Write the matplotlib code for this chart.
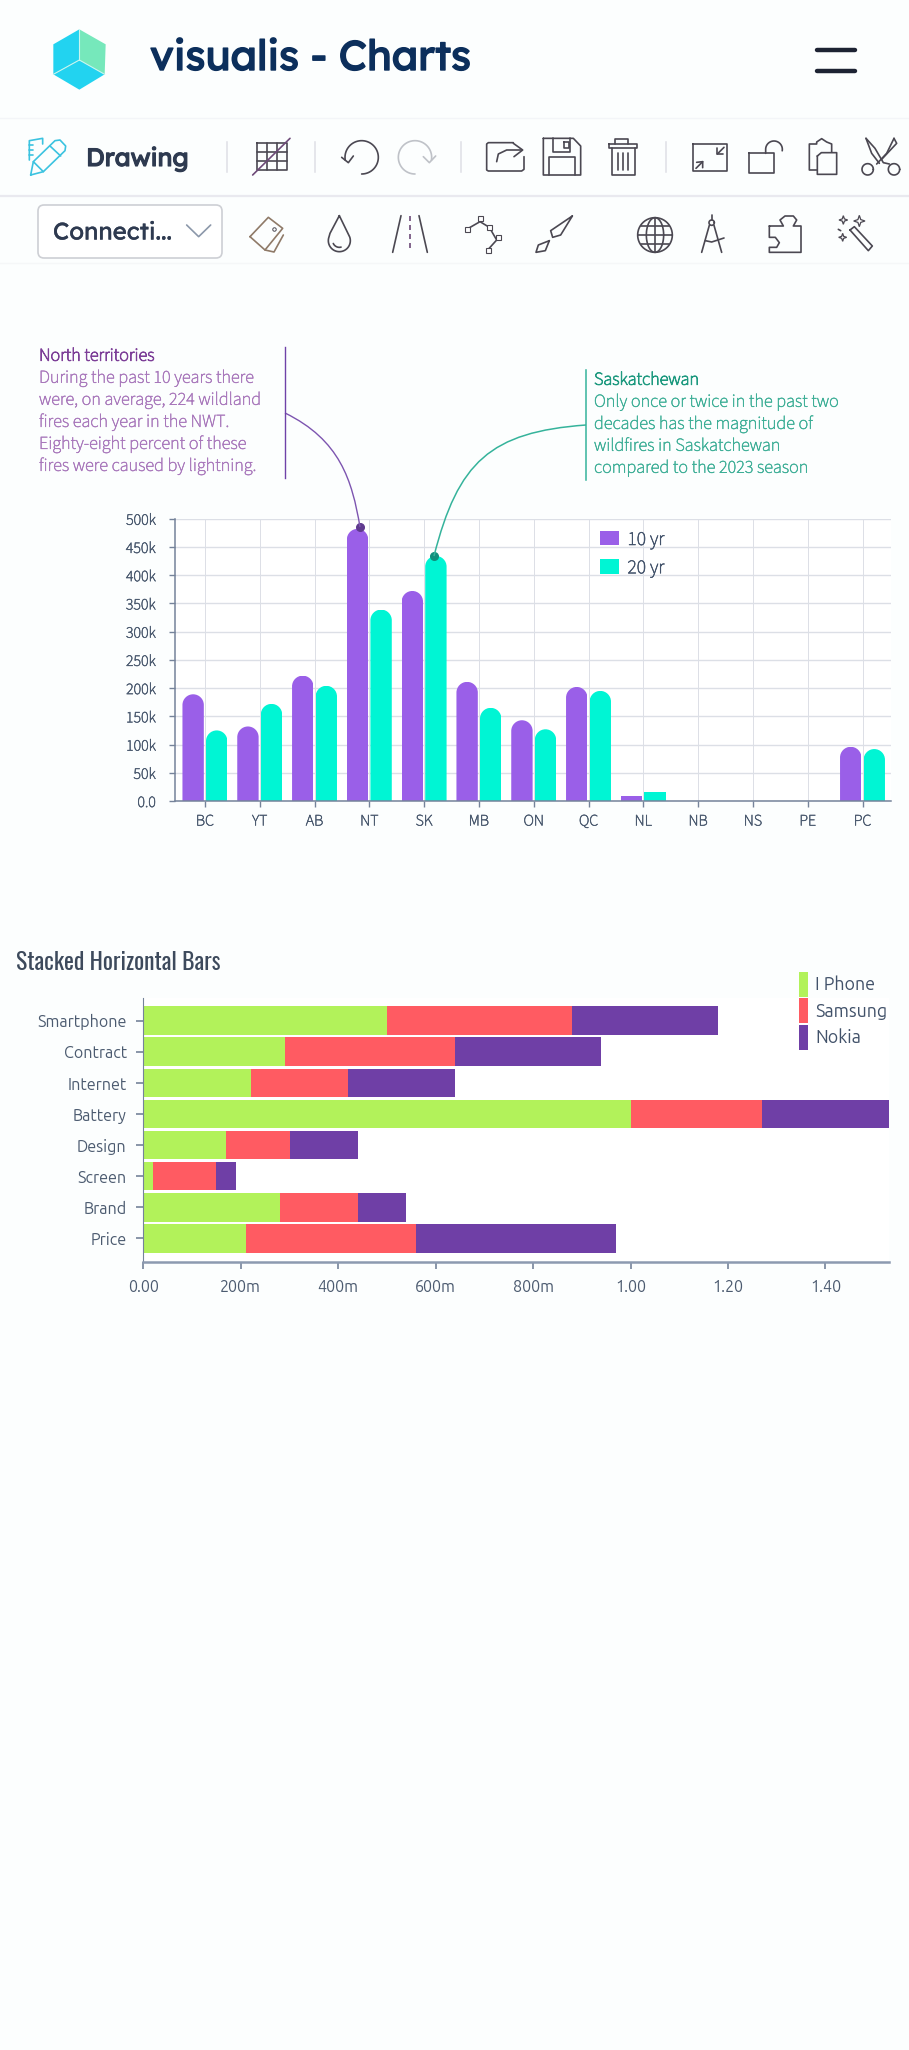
import numpy as np
import matplotlib
matplotlib.use('Agg')
import matplotlib.pyplot as plt
from matplotlib.patches import PathPatch, FancyBboxPatch, Polygon
from matplotlib.patheffects import withStroke
from matplotlib.path import Path

# ---------- data ----------
regions = ['BC', 'YT', 'AB', 'NT', 'SK', 'MB', 'ON', 'QC', 'NL', 'NB', 'NS', 'PE', 'PC']
ten_yr = [189, 132, 222, 482, 372, 211, 143, 202, 8, 0, 0, 0, 96]
twenty_yr = [125, 172, 204, 339, 434, 165, 127, 195, 16, 0, 0, 0, 92]
y_ticks_k = [0, 50, 100, 150, 200, 250, 300, 350, 400, 450, 500]
y_labels = ['0.0', '50k', '100k', '150k', '200k', '250k', '300k', '350k', '400k', '450k', '500k']

features = ['Price', 'Brand', 'Screen', 'Design', 'Battery', 'Internet', 'Contract', 'Smartphone']
iphone = [0.21, 0.28, 0.02, 0.17, 1.00, 0.22, 0.29, 0.50]
samsung = [0.35, 0.16, 0.13, 0.13, 0.27, 0.20, 0.35, 0.38]
nokia = [0.41, 0.10, 0.04, 0.14, 0.27, 0.22, 0.30, 0.30]
x_ticks = [0, 0.2, 0.4, 0.6, 0.8, 1.0, 1.2, 1.4]
x_labels = ['0.00', '200m', '400m', '600m', '800m', '1.00', '1.20', '1.40']

north_lines = ['During the past 10 years there', 'were, on average, 224 wildland',
               'fires each year in the NWT.', 'Eighty-eight percent of these',
               'fires were caused by lightning.']
sask_lines = ['Only once or twice in the past two', 'decades has the magnitude of',
              'wildfires in Saskatchewan', 'compared to the 2023 season']

# ---------- figure ----------
W, H = 909, 2050
BODY = ['Source Sans 3', 'Source Sans Pro', 'Lato', 'DejaVu Sans']
TICKF = ['Ubuntu', 'Lato', 'DejaVu Sans']
UI = ['Lexend', 'Lato', 'DejaVu Sans']
TITLE = ['Oswald', 'Roboto Condensed', 'DejaVu Sans']
TICK = '#4c5b70'
GRID = '#dcdfe6'
AXC = '#75839a'
plt.rcParams['font.family'] = BODY
fig = plt.figure(figsize=(W / 100, H / 100), dpi=100, facecolor='#fcfefe')


def rect_px(l, t, r, b):
    return [l / W, 1 - b / H, (r - l) / W, (b - t) / H]


def heavy(t, lw, c):
    t.set_path_effects([withStroke(linewidth=lw, foreground=c)])


# ---------- grouped bar chart ----------
ax = fig.add_axes(rect_px(175, 518.7, 891, 801), facecolor='white')
x = np.arange(len(regions))
off, bw = 0.215, 0.39
ax.set_xlim(-0.546, 12.52)
ax.set_ylim(0, 500)
PX_X = (891 - 175) / (12.52 + 0.546)
PX_Y = (801 - 518.7) / 500
ax.set_axisbelow(True)
ax.grid(True, color=GRID, lw=1.0)
ax.grid(True, axis='x', color=GRID, lw=0.7)


def round_top(bars):
    for b in bars:
        x0, w, h = b.get_x(), b.get_width(), b.get_height()
        rx = w / 2
        ry = rx * PX_X / PX_Y
        if h < ry * 1.2:
            continue
        k = 0.5523
        verts = [(x0, 0), (x0, h - ry), (x0, h - ry + k * ry), (x0 + rx - k * rx, h), (x0 + rx, h),
                 (x0 + rx + k * rx, h), (x0 + w, h - ry + k * ry), (x0 + w, h - ry), (x0 + w, 0), (x0, 0)]
        codes = [Path.MOVETO, Path.LINETO, Path.CURVE4, Path.CURVE4, Path.CURVE4,
                 Path.CURVE4, Path.CURVE4, Path.CURVE4, Path.LINETO, Path.CLOSEPOLY]
        b.set_clip_path(Path(verts, codes), ax.transData)


b1 = ax.bar(x - off, ten_yr, bw, color='#9a5fe8', label='10 yr', zorder=2)
b2 = ax.bar(x + off, twenty_yr, bw, color='#00f5d4', label='20 yr', zorder=2)
round_top(b1)
round_top(b2)
ax.set_xticks(x, regions)
ax.set_yticks(y_ticks_k, y_labels)
ax.tick_params(axis='both', colors=TICK, labelsize=11.5, length=4, width=1, color=AXC, pad=10)
ax.tick_params(axis='x', pad=5)
for t in ax.get_xticklabels() + ax.get_yticklabels():
    heavy(t, 0.4, TICK)
for s in ['top', 'right']:
    ax.spines[s].set_visible(False)
for s in ['left', 'bottom']:
    ax.spines[s].set_color(AXC)
    ax.spines[s].set_linewidth(1.1)
ax.plot([2.835], [485], 'o', ms=5.5, color='#5f3a8e', clip_on=False, zorder=5)
ax.plot([4.18], [434], 'o', ms=5.5, color='#0f8f7c', clip_on=False, zorder=5)
leg = ax.legend(loc='upper left', bbox_to_anchor=(600 / W, 1 - 530 / H), bbox_transform=fig.transFigure,
                frameon=False, fontsize=14.2, handlelength=0.94, handleheight=0.75, labelspacing=0.42,
                handletextpad=0.45, borderpad=0, borderaxespad=0)
for t in leg.get_texts():
    t.set_color('#42526a')
    heavy(t, 0.4, '#42526a')

# ---------- stacked horizontal bars ----------
ax2 = fig.add_axes(rect_px(143.4, 998, 888.7, 1262), facecolor='white')
y = np.arange(len(features))
ip, sa, no = np.array(iphone), np.array(samsung), np.array(nokia)
ax2.barh(y, ip, 0.92, color='#b2f25a', label='I Phone')
ax2.barh(y, sa, 0.92, left=ip, color='#ff5b62', label='Samsung')
ax2.barh(y, no, 0.92, left=ip + sa, color='#6f3fa6', label='Nokia')
ax2.set_xlim(0, 1.53)
ax2.set_ylim(-0.76, 7.73)
ax2.set_xticks(x_ticks, x_labels, family=TICKF)
ax2.set_yticks(y, features, family=TICKF)
ax2.tick_params(axis='both', colors=TICK, labelsize=11.6, length=5, width=1.2, color=AXC, pad=7)
for s in ['top', 'right']:
    ax2.spines[s].set_visible(False)
ax2.spines['left'].set_color(AXC)
ax2.spines['bottom'].set_color('#8c9ab0')
ax2.spines['bottom'].set_linewidth(1.8)
leg2 = ax2.legend(loc='upper left', bbox_to_anchor=(799 / W, 1 - 972 / H), bbox_transform=fig.transFigure,
                  frameon=False, handlelength=0.48, handleheight=1.78, labelspacing=0.08,
                  handletextpad=0.42, borderpad=0, borderaxespad=0, prop={'family': TICKF, 'size': 12.8})
for t in leg2.get_texts():
    t.set_color('#42526a')

# ---------- overlay in pixel coordinates ----------
ov = fig.add_axes([0, 0, 1, 1], facecolor='none', zorder=10)
ov.set_xlim(0, W)
ov.set_ylim(H, 0)
ov.axis('off')
DK = '#4b4852'


def L(ox, oy, pts, c=DK, lw=1.2, close=False, ls='-'):
    pts = list(pts)
    if close:
        pts = pts + [pts[0]]
    ov.plot([ox + p[0] / 3 for p in pts], [oy + p[1] / 3 for p in pts], color=c, lw=lw, ls=ls,
            solid_capstyle='round', solid_joinstyle='round')


def arc(cx, cy, r, a1, a2, ry=None, n=50):
    ry = r if ry is None else ry
    t = np.radians(np.linspace(a1, a2, n))
    return [(cx + r * np.cos(a), cy - ry * np.sin(a)) for a in t]


def R(l, t, r, b):
    return [(l, t), (r, t), (r, b), (l, b)]


def label(px, py, s, family, size, color, stroke=0.0, **kw):
    t = ov.text(px, py, s, family=family, fontsize=size, color=color, va='center', **kw)
    if stroke:
        heavy(t, stroke, color)
    return t


# Header
top = (148, 43); rt = (227, 88); rb = (224, 178); bt = (148, 224); lb = (70, 178); lt = (70, 88); ct = (148, 135)
logo = lambda pts: [(30 + p[0] / 3, 15 + p[1] / 3) for p in pts]
ov.add_patch(Polygon(logo([top, ct, lb, lt]), fc='#22d3f0', ec='none'))
ov.add_patch(Polygon(logo([top, rt, rb, ct]), fc='#76e8bb', ec='none'))
ov.add_patch(Polygon(logo([ct, rb, bt, lb]), fc='#22d3f0', ec='none'))
L(30, 15, [top, ct], c='#c8f5ee', lw=0.8)
L(30, 15, [lb, ct, rb], c='#c8f5ee', lw=0.8)
label(150, 59.5, 'visualis - Charts', UI, 30, '#0c2f5c', stroke=1.0)
for yy in (49.5, 70.5):
    ov.plot([817, 855], [yy, yy], color='#1d2333', lw=3.2, solid_capstyle='round')

# Toolbar lines
ov.plot([0, W], [195.5, 195.5], color='#e9e9ef', lw=1.6)
ov.plot([0, W], [118, 118], color='#f3f5f8', lw=1)
ov.plot([0, W], [263, 263], color='#f5f7f8', lw=1)
for xx in (227, 315, 461, 666):
    ov.plot([xx, xx], [142, 172], color='#dfdfe6', lw=1.1)

# Row 1
CY = '#3bc3e0'
L(0, 120, [(92, 165), (100, 125), (165, 62), (180, 60), (197, 78), (195, 92), (130, 155)], c=CY, close=True)
L(0, 120, [(100, 125), (130, 155)], c=CY)
L(0, 120, [(150, 78), (182, 108)], c=CY)
L(0, 120, [(88, 120), (88, 62), (128, 55), (128, 72)], c=CY)
for yy in (75, 90, 105):
    L(0, 120, [(88, yy), (100, yy)], c=CY)
label(86, 159, 'Drawing', UI, 18, '#2e3a50', stroke=0.8)
L(0, 120, R(770, 68, 860, 150), close=True)
for xx in (800, 830):
    L(0, 120, [(xx, 68), (xx, 150)])
for yy in (95, 122):
    L(0, 120, [(770, yy), (860, yy)])
L(0, 120, [(758, 165), (870, 55)], c='#6d4a78')
# undo, redo, share, save
L(320, 120, arc(125, 112, 50, 190, -90))
L(320, 120, [(65, 112), (85, 128), (100, 108)])
GR = '#bfc2c8'
L(320, 120, arc(285, 112, 50, -10, 270), c=GR)
L(320, 120, [(310, 110), (328, 128), (347, 108)], c=GR)
L(320, 120, [(580, 68), (505, 68), (500, 72), (500, 150), (505, 153), (605, 153), (612, 148), (612, 110)])
L(320, 120, [(530, 125), (535, 102), (560, 90), (605, 90)])
L(320, 120, [(580, 70), (608, 90), (582, 110)])
L(320, 120, [(670, 55), (760, 55), (782, 78), (782, 165), (670, 165)], close=True)
L(320, 120, [(700, 55), (700, 95), (750, 95), (750, 55)])
L(320, 120, R(733, 65, 747, 85), close=True)
L(320, 120, [(688, 165), (688, 112), (765, 112), (765, 165)])
# trash, resize, lock, clipboard, scissors
L(620, 120, R(-33, 72, 50, 85), close=True)
L(620, 120, [(-15, 72), (-15, 56), (25, 56), (25, 72)])
L(620, 120, [(-25, 85), (-25, 165), (45, 165), (45, 85)])
for xx in (-5, 10, 25):
    L(620, 120, [(xx, 100), (xx, 150)])
L(620, 120, R(218, 72, 322, 153), close=True)
L(620, 120, [(228, 145), (248, 125)]); L(620, 120, [(230, 127), (248, 125), (248, 143)])
L(620, 120, [(312, 82), (292, 102)]); L(620, 120, [(292, 84), (292, 102), (310, 102)])
L(620, 120, R(388, 100, 462, 158), close=True)
L(620, 120, [(437, 100)] + arc(462, 88, 25, 180, -10))
L(620, 120, [(590, 150), (568, 150), (568, 72), (590, 72), (590, 66), (605, 56), (620, 66), (635, 72), (635, 96)])
L(620, 120, [(592, 108), (604, 98), (650, 98), (650, 163), (592, 163)], close=True)
L(620, 120, [(738, 55), (765, 55 + 30), (790, 128), (808, 132)])
L(620, 120, [(738, 55), (755, 100), (778, 130)])
L(620, 120, [(822, 55), (800, 100), (770, 132)])
L(620, 120, [(822, 55), (830, 70), (785, 118)])
L(620, 120, arc(743, 148, 17, 0, 360), close=True)
L(620, 120, arc(822, 148, 17, 0, 360), close=True)

# Row 2
ov.add_patch(FancyBboxPatch((38, 205), 184, 53, boxstyle='round,pad=0,rounding_size=6', fc='white', ec='#cdcfd4', lw=1.2))
label(53, 233, 'Connecti...', UI, 17.3, '#2e3a50', stroke=0.2)
L(0, 120, [(560, 315), (596, 350), (632, 315)], c='#8c98aa')
TAN = '#8f7a68'
L(0, 120, [(750, 350), (805, 292), (848, 325), (795, 390)], c=TAN, close=True)
L(0, 120, [(795, 390), (822, 396), (850, 345)], c=TAN)
ov.plot([0 + 823 / 3], [120 + 327 / 3], 'o', ms=2.5, mfc='none', mec=DK, mew=0.7)
L(320, 120, [(58, 287), (30, 340)] + arc(58, 362, 33, 160, 380) + [(58, 287)])
L(320, 120, arc(58, 362, 20, 205, 285))
L(320, 120, [(243, 287), (218, 397)])
L(320, 120, [(297, 287), (322, 397)])
L(320, 120, [(270, 287), (270, 397)], c='#6d4a78', ls=(0, (3, 2.4)))
L(320, 120, [(440, 328), (480, 305), (508, 322), (530, 360), (503, 390)])
ov.plot([320 + v / 3 for v in (440, 480, 508, 535, 503)], [120 + v / 3 for v in (328, 293, 322, 350, 390)],
        's', ms=3.6, mfc='white', mec=DK, mew=0.8)
L(320, 120, [(757, 288), (722, 345), (698, 352), (692, 332)], close=True)
L(320, 120, [(688, 362), (676, 392), (648, 397), (655, 375)], close=True)
L(620, 120, arc(105, 345, 52, 0, 360), close=True)
L(620, 120, arc(105, 345, 26, 0, 360, ry=52), close=True)
L(620, 120, [(105, 293), (105, 397)])
L(620, 120, [(53, 345), (157, 345)])
L(620, 120, [(62, 318), (148, 318)])
L(620, 120, [(62, 372), (148, 372)])
L(620, 120, [(275, 285), (275, 300)])
L(620, 120, arc(275, 308, 8, 0, 360), close=True)
L(620, 120, [(268, 316), (245, 397)])
L(620, 120, [(282, 316), (305, 397)])
L(620, 120, [(256, 362), (275, 366), (312, 354)])
L(620, 120, [(448, 318), (490, 318), (480, 300), (495, 288), (520, 288), (530, 300), (520, 318), (543, 318),
             (543, 397), (448, 397), (448, 382), (470, 382), (478, 368), (466, 352), (448, 352)], close=True)
L(620, 120, [(690, 330), (703, 320), (757, 378), (745, 392)], close=True)
for sx, sy, s in ((670, 300, 13), (718, 303, 17), (668, 352, 12)):
    ov.add_patch(Polygon([(620 + (sx + dx * s) / 3, 120 + (sy + dy * s) / 3) for dx, dy in
                          ((0, -1), (.25, -.25), (1, 0), (.25, .25), (0, 1), (-.25, .25), (-1, 0), (-.25, -.25))],
                         fc='white', ec=DK, lw=0.9))
L(620, 120, [(655, 328), (662, 332)])

# Annotations
AF = 13.1
HD_P, TX_P, LN_P = '#7d3f98', '#a877bb', '#6f42a8'
HD_T, TX_T, LN_T = '#1f9a80', '#3cae96', '#35b39b'
label(39, 356, 'North territories', BODY, AF, HD_P, stroke=0.6)
for yy, s in zip((378, 400, 422, 444, 466), north_lines):
    label(39, yy, s, BODY, AF, TX_P, stroke=0.35)
ov.plot([285, 285], [347, 478], color=LN_P, lw=1)
label(594, 380, 'Saskatchewan', BODY, AF, HD_T, stroke=0.6)
for yy, s in zip((402, 424, 446, 468), sask_lines):
    label(594, yy, s, BODY, AF, TX_T, stroke=0.35)
ov.plot([586, 586], [370, 480], color=LN_T, lw=1.1)
ov.add_patch(PathPatch(Path([(285, 413), (340, 440), (352, 480), (360, 527)], [Path.MOVETO, Path.CURVE4, Path.CURVE4, Path.CURVE4]),
                       fc='none', ec='#7d55b0', lw=1))
ov.add_patch(PathPatch(Path([(586, 425), (490, 432), (458, 462), (434, 556)], [Path.MOVETO, Path.CURVE4, Path.CURVE4, Path.CURVE4]),
                       fc='none', ec='#35b39b', lw=1.1))

# Second chart title
label(15.5, 962, 'Stacked Horizontal Bars', TITLE, 17, '#3d4a5c')

fig.savefig('out.png', dpi=100, facecolor=fig.get_facecolor())
